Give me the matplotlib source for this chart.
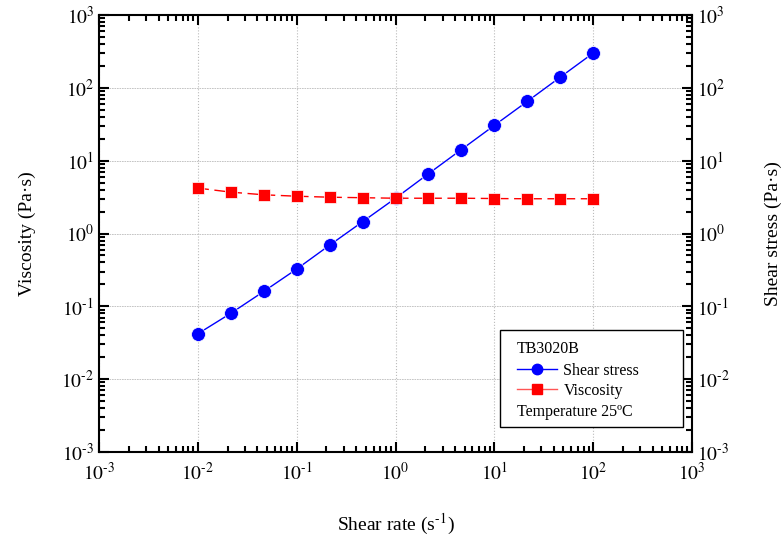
import matplotlib
matplotlib.use("Agg")
import matplotlib.pyplot as plt
from matplotlib.ticker import LogLocator, NullFormatter, FuncFormatter
from matplotlib.lines import Line2D
from matplotlib.patches import Rectangle
import numpy as np

shear_rate = [0.01, 0.0215, 0.0464, 0.1, 0.215, 0.464, 1.0, 2.15, 4.64, 10.0, 21.5, 46.4, 100.0]
shear_stress = [0.042, 0.08, 0.16, 0.325, 0.69, 1.45, 3.05, 6.6, 14.2, 30.5, 65.0, 140.0, 300.0]
viscosity = [4.2, 3.7, 3.4, 3.25, 3.15, 3.1, 3.05, 3.05, 3.05, 3.02, 3.0, 3.0, 3.0]

plt.rcParams['font.family'] = ['Liberation Serif', 'DejaVu Serif']
plt.rcParams['mathtext.fontset'] = 'stix'

fig = plt.figure(figsize=(7.82, 5.40), dpi=100)
ax = fig.add_axes([99/782, 1-452/540, (692-99)/782, (452-15)/540])

ax.set_xscale('log')
ax.set_yscale('log')
ax.set_xlim(1e-3, 1e3)
ax.set_ylim(1e-3, 1e3)

ax.grid(True, which='major', axis='x', color='#bbbbbb', linestyle=':', linewidth=0.8)
ax.grid(True, which='major', axis='y', color='#bbbbbb', linestyle='--', linewidth=0.6, dashes=(2, 1))

ax.plot(shear_rate, shear_stress, '-', color='blue', lw=1.0, marker='o', ms=10,
        mfc='blue', mec='white', mew=0.5, zorder=3)
ax.plot(shear_rate, viscosity, '--', color='red', lw=1.0, marker='s', ms=9, dashes=(8, 4),
        mfc='red', mec='white', mew=0.5, zorder=3)


def fmt(v, pos):
    e = int(round(np.log10(v)))
    if e < 0:
        return r'$10^{\text{-%d}}$' % (-e)
    return r'$10^{%d}$' % e


ax.xaxis.set_major_locator(LogLocator(base=10, numticks=10))
ax.yaxis.set_major_locator(LogLocator(base=10, numticks=10))
ax.xaxis.set_minor_locator(LogLocator(base=10, subs=range(2, 10), numticks=20))
ax.yaxis.set_minor_locator(LogLocator(base=10, subs=range(2, 10), numticks=20))
ax.xaxis.set_major_formatter(FuncFormatter(fmt))
ax.yaxis.set_major_formatter(FuncFormatter(fmt))
ax.xaxis.set_minor_formatter(NullFormatter())
ax.yaxis.set_minor_formatter(NullFormatter())

ax.tick_params(which='both', direction='in', top=True, right=True, labelsize=14,
               labelright=True, width=1.5)
ax.tick_params(which='major', length=7)
ax.tick_params(which='minor', length=4)
ax.tick_params(axis='x', pad=7)
for s in ax.spines.values():
    s.set_linewidth(1.5)

ax.set_xlabel(r'Shear rate (s$^{\text{-1}}$)', fontsize=14, labelpad=20)
ax.set_ylabel('Viscosity (Pa·s)', fontsize=14, labelpad=18)
ax.text(1.137, 0.5, 'Shear stress (Pa·s)', transform=ax.transAxes, rotation=90,
        va='center', ha='center', fontsize=14)

# legend box
x0 = (500 - 99) / 593
x1 = (683 - 99) / 593
y0 = (452 - 427) / 437
y1 = (452 - 330) / 437
ax.add_patch(Rectangle((x0, y0), x1 - x0, y1 - y0, transform=ax.transAxes,
                       facecolor='white', edgecolor='black', lw=1.0, zorder=5))

handles = [Line2D([], [], color='blue', marker='o', ms=7.5, mec='blue', lw=1.0),
           Line2D([], [], color='#ff5555', marker='s', ms=6.5, mec='red', mfc='red', lw=1.0)]
labels = ['Shear stress', 'Viscosity']
leg = ax.legend(handles, labels, loc='upper left',
                bbox_to_anchor=((517 - 99) / 593, (452 - 363) / 437), fontsize=11.5,
                frameon=False, borderpad=0, borderaxespad=0,
                handlelength=2.5, handletextpad=0.4, labelspacing=0.22)
leg.set_zorder(6)
ax.text((517 - 99) / 593, (452 - 349) / 437, 'TB3020B', transform=ax.transAxes,
        fontsize=11.5, va='center', ha='left', zorder=7)
ax.text((517 - 99) / 593, (452 - 412) / 437, 'Temperature 25ºC', transform=ax.transAxes,
        fontsize=11.5, va='center', ha='left', zorder=7)

fig.savefig('out.png', dpi=100)
